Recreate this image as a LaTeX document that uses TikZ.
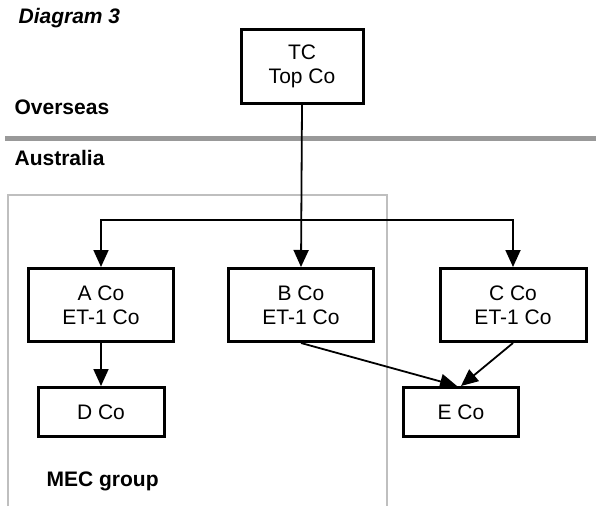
\documentclass[tikz,border=0pt]{standalone}
\usepackage{fontspec}
\setmainfont{Liberation Sans}
\usetikzlibrary{arrows.meta}

\begin{document}
\begin{tikzpicture}
            [x=1pt, y=-1pt, >={Triangle[width=15pt,length=17pt]}, semithick,
             font=\fontsize{21}{24}\selectfont,
             co/.style={draw=black, line width=3pt, align=center, inner sep=0pt, fill=white},
             link/.style={line width=1.8pt},
             lbl/.style={anchor=west, font=\fontsize{21}{24}\selectfont\bfseries}]
            \useasboundingbox (0,0) rectangle (596,506);

            % border and group
            \draw[gray!80, line width=5pt] (5,138) -- (596,138);
            \draw[black!25, line width=2pt] (8,506) -- (8,195) -- (387,195) -- (387,506);

            \node[lbl, font=\fontsize{21}{24}\selectfont\bfseries\itshape] (title) at (15,18) {Diagram 3};
            \node[lbl] (overseas) at (11,107) {Overseas};
            \node[lbl] (australia) at (11,158) {Australia};
            \node[lbl] (mec) at (43,481) {MEC group};

            \node[co, minimum width=122pt, minimum height=74pt] (tc) at (302,66) {TC\\Top Co};
            \node[co, minimum width=145pt, minimum height=73pt] (a) at (101,305) {A Co\\ET-1 Co};
            \node[co, minimum width=145pt, minimum height=73pt] (b) at (301,305) {B Co\\ET-1 Co};
            \node[co, minimum width=146pt, minimum height=73pt] (c) at (513,305) {C Co\\ET-1 Co};
            \node[co, minimum width=126pt, minimum height=49pt] (d) at (101,412) {D Co};
            \node[co, minimum width=115pt, minimum height=49pt] (e) at (461,412) {E Co};
            \coordinate (split) at (302,220);

            \draw[link, ->] (tc.south) -- (b.north);
            \draw[link, ->] (split) -| (a.north);
            \draw[link, ->] (split) -| (c.north);
            \draw[link, ->] (a.south) -- (d.north);
            \draw[link, ->] (b.south) -- ([xshift=-4pt]e.north);
            \draw[link, ->] (c.south) -- (e.north);
        \end{tikzpicture}
\end{document}
